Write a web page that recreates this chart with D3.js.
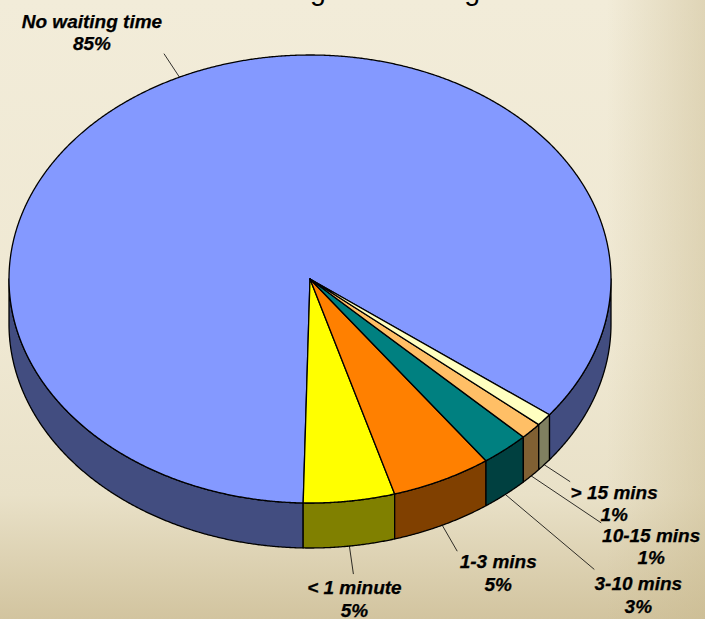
<!DOCTYPE html>
<html>
<head>
<meta charset="utf-8">
<script src="https://cdn.jsdelivr.net/npm/d3@7/dist/d3.min.js"></script>
<style>
html,body{margin:0;padding:0;overflow:hidden;background:#F0E9D4;}
svg{display:block;}
</style>
</head>
<body>
<svg id="chart" width="705" height="619"></svg>
<script>
// ---- data ----
const titleText = "Waiting time at Registration";
const categories = ["No waiting time", "< 1 minute", "1-3 mins", "3-10 mins", "10-15 mins", "> 15 mins"];
const values = [85.0, 4.9, 5.4, 2.6, 1.2, 0.9];
const topColors = ["#8499FF", "#FFFF00", "#FF8000", "#008080", "#FFBF66", "#FFFFC0"];

// ---- layout ----
const W = 705, H = 619;
const cx = 310, cy = 279, rx = 301, ry = 224, depth = 45;
const startDeg = 127.3; // pie rotation (drawn counter-clockwise)
// leader line end offsets (from slice anchor) and text offsets (from line end)
const leaderOffsets = [[-15.5,-23.5],[4,28],[15,26],[89,75],[70,47],[26,17]];
const textOffsets = [[-72,-25.8],[1,20],[41,17],[44,21],[50,18.6],[44,17]];

const svg = d3.select("#chart");
const defs = svg.append("defs");
const gv = defs.append("linearGradient").attr("id","bgv").attr("x1",0).attr("y1",0).attr("x2",0).attr("y2",1);
[[0,"#F2ECD9"],[0.55,"#EFE8D2"],[0.8,"#E9E1C8"],[1,"#D2C49F"]].forEach(s=>gv.append("stop").attr("offset",s[0]).attr("stop-color",s[1]));
const gh = defs.append("linearGradient").attr("id","bgh").attr("x1",0).attr("y1",0).attr("x2",1).attr("y2",0);
[[0,"#C8B88C",0],[0.86,"#C8B88C",0],[1,"#C8B88C",0.45]].forEach(s=>gh.append("stop").attr("offset",s[0]).attr("stop-color",s[1]).attr("stop-opacity",s[2]));
svg.append("rect").attr("width",W).attr("height",H).attr("fill","url(#bgv)");
svg.append("rect").attr("width",W).attr("height",H).attr("fill","url(#bgh)");

// title (mostly cut off at top; only descenders show)
svg.append("text").attr("x",406).attr("y",-0.5).attr("text-anchor","middle")
  .attr("font-family","'Liberation Sans', Arial, sans-serif").attr("font-size",28.6)
  .attr("fill","#000").text(titleText);

const data = categories.map((c,i)=>({name:c, value:values[i], color:topColors[i]}));
const total = d3.sum(values);
const s0 = startDeg*Math.PI/180;
const pie = d3.pie().sort(null).value(d=>d.value).startAngle(s0).endAngle(s0 - 2*Math.PI);
const arcs = pie(data);

const pt = (a, dy=0) => [cx + rx*Math.sin(a), cy - ry*Math.cos(a) + dy];
function sample(a0, a1, dy=0){
  const n = Math.max(2, Math.ceil(Math.abs(a1-a0)/(Math.PI/720)));
  const out = [];
  for(let i=0;i<=n;i++){ out.push(pt(a0 + (a1-a0)*i/n, dy)); }
  return out;
}
const line = d3.line();
const sideColor = c => { const r = d3.rgb(c); return d3.rgb(r.r/2, r.g/2, r.b/2).toString(); };

// front-visible intervals: cos(a) < 0 -> a in (PI/2, 3PI/2) mod 2PI
function frontParts(lo, hi){
  const parts = [];
  for(let k=-2;k<=2;k++){
    const f0 = Math.PI/2 + k*2*Math.PI, f1 = 3*Math.PI/2 + k*2*Math.PI;
    const a = Math.max(lo,f0), b = Math.min(hi,f1);
    if(b > a) parts.push([a,b]);
  }
  return parts;
}

const gSide = svg.append("g"), gTop = svg.append("g"), gLab = svg.append("g");

arcs.forEach(d=>{
  const lo = Math.min(d.startAngle,d.endAngle), hi = Math.max(d.startAngle,d.endAngle);
  frontParts(lo,hi).forEach(([a,b])=>{
    const pts = sample(a,b).concat(sample(b,a,depth));
    gSide.append("path").attr("d", line(pts)+"Z")
      .attr("fill", sideColor(d.data.color)).attr("stroke","#000").attr("stroke-width",1.3).attr("stroke-linejoin","round");
  });
  const pts = [[cx,cy]].concat(sample(d.startAngle,d.endAngle));
  gTop.append("path").attr("d", line(pts)+"Z")
    .attr("fill", d.data.color).attr("stroke","#000").attr("stroke-width",1.3).attr("stroke-linejoin","round");
});

arcs.forEach((d,i)=>{
  const mid = (d.startAngle+d.endAngle)/2;
  const front = Math.cos(mid) < 0;
  const anchor = pt(mid, front ? depth : 0);
  const end = [anchor[0]+leaderOffsets[i][0], anchor[1]+leaderOffsets[i][1]];
  gLab.append("line").attr("x1",anchor[0]).attr("y1",anchor[1]).attr("x2",end[0]).attr("y2",end[1])
    .attr("stroke","#000").attr("stroke-width",0.8);
  const tx = end[0]+textOffsets[i][0], ty = end[1]+textOffsets[i][1];
  const t = gLab.append("text").attr("x",tx).attr("y",ty).attr("text-anchor","middle")
    .attr("font-family","'Liberation Sans', Arial, sans-serif").attr("font-size",19)
    .attr("font-weight","bold").attr("font-style","italic").attr("fill","#000")
    .attr("stroke","#000").attr("stroke-width",0.25);
  t.append("tspan").attr("x",tx).attr("dy",0).text(d.data.name);
  t.append("tspan").attr("x",tx).attr("dy",22.6).text(Math.round(d.data.value/total*100)+"%");
});
</script>
</body>
</html>
